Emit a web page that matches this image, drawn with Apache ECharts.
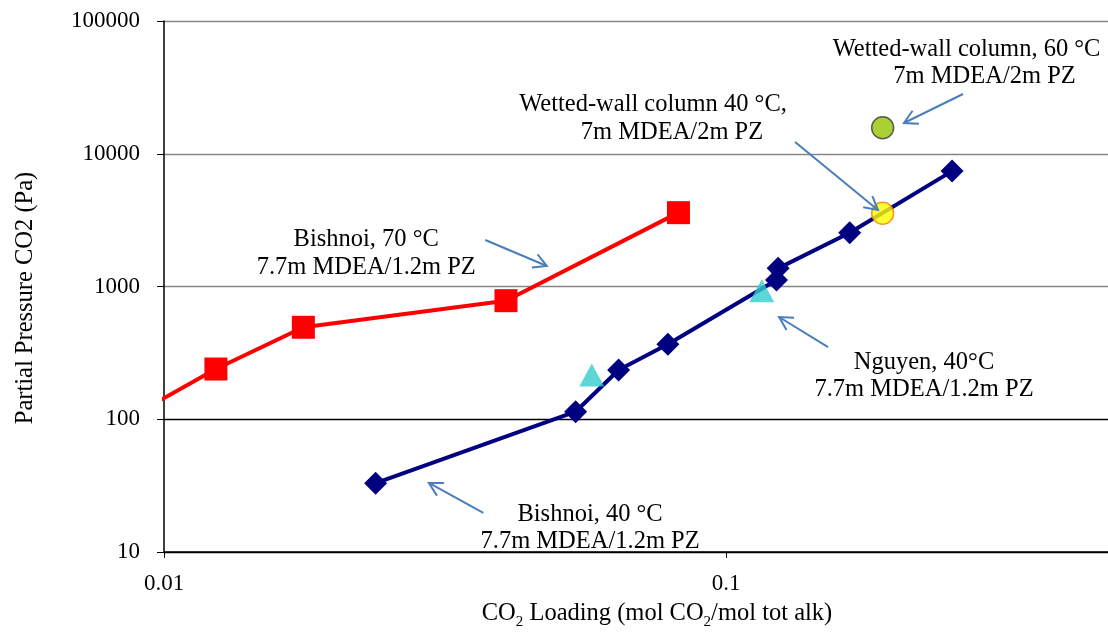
<!DOCTYPE html>
<html><head><meta charset="utf-8">
<script src="https://cdn.jsdelivr.net/npm/echarts@6/dist/echarts.min.js"></script>
<style>html,body{margin:0;padding:0;background:#fff}#c{width:1108px;height:633px}</style>
</head><body><div id="c"></div>
<script>
// ---- data ----
const xTickLabels = ['0.01', '0.1', '1'];
const yTickLabels = ['10', '100', '1000', '10000', '100000'];

const bishnoi70X = [0.008, 0.01237, 0.0177, 0.0406, 0.0823];
const bishnoi70Y = [85, 239, 493, 782, 3600];

const bishnoi40X = [0.0238, 0.054, 0.0644, 0.0788, 0.1230, 0.1238, 0.166, 0.2525];
const bishnoi40Y = [33, 114, 235, 367, 1120, 1370, 2540, 7400];

const nguyenX = [0.0577, 0.1158];
const nguyenY = [215, 930];

const ww40X = [0.190];
const ww40Y = [3560];

const ww60X = [0.190];
const ww60Y = [15700];

// ---- annotations (anchored in data coordinates) ----
const noteLines = [
  {text: 'Bishnoi, 70 °C', at: [0.0229, 2240]},
  {text: '7.7m MDEA/1.2m PZ', at: [0.0229, 1379]},
  {text: 'Bishnoi, 40 °C', at: [0.0573, 18.98]},
  {text: '7.7m MDEA/1.2m PZ', at: [0.0573, 11.89]},
  {text: 'Nguyen, 40°C', at: [0.2251, 265.3]},
  {text: '7.7m MDEA/1.2m PZ', at: [0.2251, 166.1]},
  {text: 'Wetted-wall column 40 °C,', at: [0.07415, 23295]},
  {text: '7m MDEA/2m PZ', at: [0.08015, 14333]},
  {text: 'Wetted-wall column, 60 °C', at: [0.2679, 60480]},
  {text: '7m MDEA/2m PZ', at: [0.2884, 37860]}
];
const arrows = [
  {from: [0.0373, 2240], to: [0.0480, 1427]},
  {from: [0.1327, 12260], to: [0.1864, 3770]},
  {from: [0.2641, 28190], to: [0.2073, 17040]},
  {from: [0.1519, 350], to: [0.1243, 589]},
  {from: [0.0370, 19.7], to: [0.0296, 33.1]}
];

const FONT = '"Liberation Serif","Times New Roman",serif';
const pairs = (xs, ys) => xs.map((x, i) => [x, ys[i]]);

const chart = echarts.init(document.getElementById('c'), null, {renderer: 'canvas'});
const option = {
  animation: false,
  backgroundColor: '#fff',
  grid: {left: 164, top: 21, width: 1124, height: 531, outerBoundsMode: 'none', containLabel: false},
  xAxis: {
    type: 'log', logBase: 10, min: 0.01, max: 1,
    axisLine: {show: true, lineStyle: {color: '#000', width: 1.5}},
    axisTick: {show: true, length: 6, lineStyle: {color: '#000', width: 1}},
    minorTick: {show: false},
    splitLine: {show: false},
    axisLabel: {
      fontFamily: FONT, fontSize: 23, color: '#000', margin: 20,
      formatter: v => xTickLabels.find(t => Math.abs(Math.log10(+t) - Math.log10(v)) < 1e-6) || ''
    }
  },
  yAxis: {
    type: 'log', logBase: 10, min: 10, max: 100000,
    axisLine: {show: true, lineStyle: {color: '#000', width: 1.5}},
    axisTick: {show: true, length: 7, lineStyle: {color: '#000', width: 1}},
    minorTick: {show: false},
    splitLine: {show: true, lineStyle: {color: ['#000', '#000', '#868686', '#868686', '#868686'], width: 1.3}},
    axisLabel: {
      fontFamily: FONT, fontSize: 23, color: '#000', margin: 24,
      formatter: v => yTickLabels.find(t => Math.abs(Math.log10(+t) - Math.log10(v)) < 1e-6) || ''
    }
  },
  graphic: [
    {
      type: 'text', x: 657, y: 614,
      style: {
        text: 'CO{s|2} Loading (mol CO{s|2}/mol tot alk)',
        font: '24.5px ' + FONT, fill: '#000', lineHeight: 32,
        align: 'center', verticalAlign: 'middle',
        rich: {s: {fontSize: 15, fontFamily: FONT, lineHeight: 15, verticalAlign: 'bottom', fill: '#000'}}
      }
    },
    {
      type: 'text', x: 26, y: 298, rotation: Math.PI / 2,
      style: {
        text: 'Partial Pressure CO2 (Pa)', font: '24.5px ' + FONT, fill: '#000',
        align: 'center', verticalAlign: 'middle'
      }
    }
  ],
  series: [
    {
      name: 'Bishnoi 70', type: 'line', data: pairs(bishnoi70X, bishnoi70Y),
      symbol: 'rect', symbolSize: 23, clip: true,
      lineStyle: {color: '#ff0000', width: 4}, itemStyle: {color: '#ff0000'}, z: 3
    },
    {
      name: 'Bishnoi 40', type: 'line', data: pairs(bishnoi40X, bishnoi40Y),
      symbol: 'diamond', symbolSize: 23, clip: true,
      lineStyle: {color: '#000080', width: 4}, itemStyle: {color: '#000080'}, z: 3
    },
    {
      name: 'Nguyen', type: 'scatter', data: pairs(nguyenX, nguyenY),
      symbol: 'triangle', symbolSize: [25, 23],
      itemStyle: {color: '#33cccc'}, z: 4
    },
    {
      name: 'WW40', type: 'scatter', data: pairs(ww40X, ww40Y),
      symbol: 'circle', symbolSize: 22,
      itemStyle: {color: '#ffff00', borderColor: '#f07f09', borderWidth: 1.5}, z: 5
    },
    {
      name: 'WW60', type: 'scatter', data: pairs(ww60X, ww60Y),
      symbol: 'circle', symbolSize: 22,
      itemStyle: {color: '#94c600', borderColor: '#3a3a3a', borderWidth: 1.5}, z: 5
    },
    {
      name: 'arrows', type: 'custom', z: 6, silent: true,
      dimensions: ['x1', 'y1', 'x2', 'y2'],
      encode: {x: [0, 2], y: [1, 3]},
      data: arrows.map(a => [a.from[0], a.from[1], a.to[0], a.to[1]]),
      renderItem: (params, api) => {
        const a = api.coord([api.value(0), api.value(1)]);
        const b = api.coord([api.value(2), api.value(3)]);
        const ang = Math.atan2(a[1] - b[1], a[0] - b[0]);
        const L = 15, h = 0.5;
        const p1 = [b[0] + L * Math.cos(ang + h), b[1] + L * Math.sin(ang + h)];
        const p2 = [b[0] + L * Math.cos(ang - h), b[1] + L * Math.sin(ang - h)];
        const st = {stroke: '#4a7ebb', lineWidth: 2, fill: null};
        return {type: 'group', children: [
          {type: 'line', shape: {x1: a[0], y1: a[1], x2: b[0], y2: b[1]}, style: st},
          {type: 'polyline', shape: {points: [p1, b, p2]}, style: st}
        ]};
      }
    },
    {
      name: 'notes', type: 'custom', z: 6, silent: true,
      dimensions: ['x', 'y'],
      encode: {x: 0, y: 1},
      data: noteLines.map(n => n.at),
      renderItem: (params, api) => {
        const p = api.coord([api.value(0), api.value(1)]);
        return {
          type: 'text', x: p[0], y: p[1],
          style: {
            text: noteLines[params.dataIndex].text, fill: '#000',
            font: '24.5px ' + FONT, align: 'center', verticalAlign: 'middle'
          }
        };
      }
    }
  ]
};
chart.setOption(option);
</script>
</body></html>
